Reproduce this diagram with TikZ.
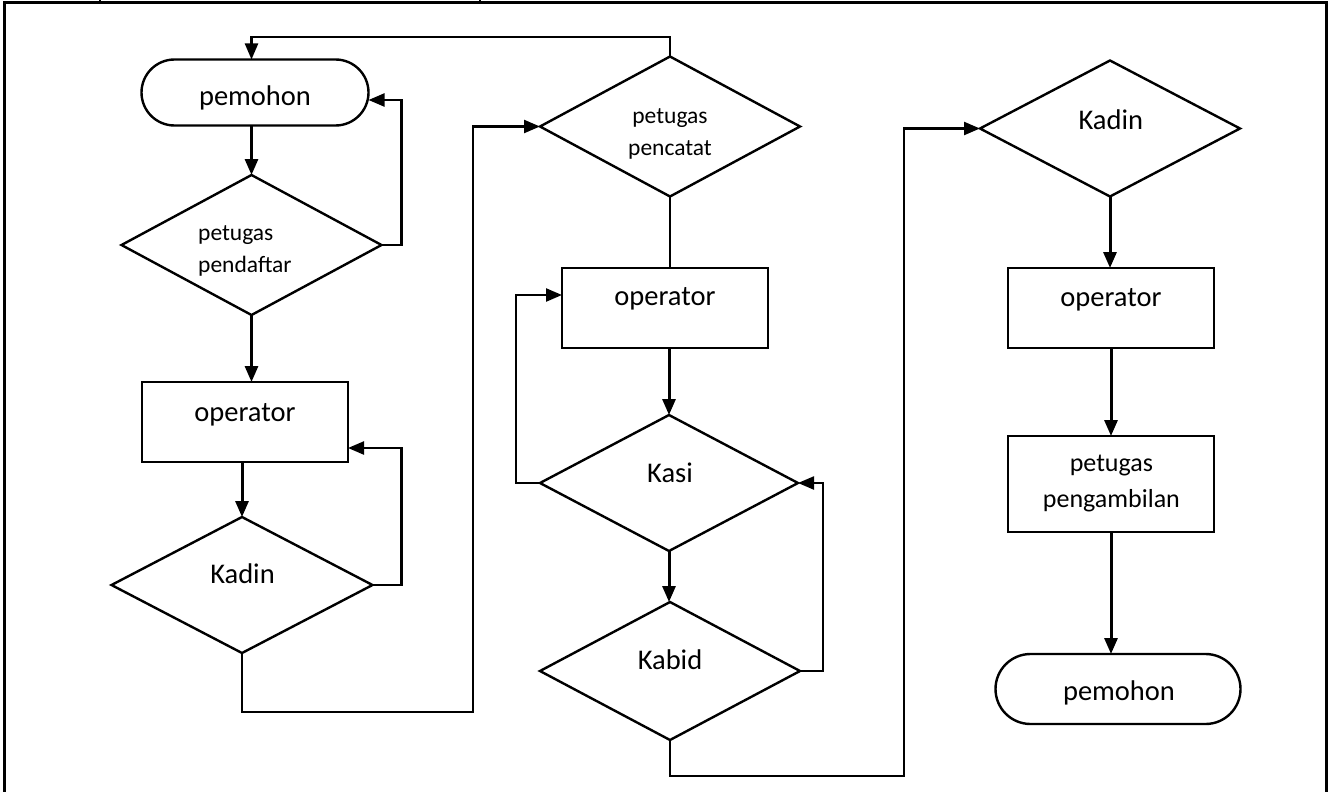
\documentclass[tikz,border=0pt]{standalone}
\usepackage{fontspec}
\setmainfont{Carlito}
\usetikzlibrary{arrows.meta,shapes.geometric,shapes.misc}
\begin{document}
\begin{tikzpicture}[x=1pt,y=-1pt,
  shapeline/.style={draw=black,line width=2.4pt,inner sep=0pt,outer sep=0pt},
  dia/.style={shapeline,diamond,minimum width=260pt,minimum height=138pt},
  box/.style={shapeline,rectangle,minimum width=206pt,minimum height=80pt},
  term/.style={shapeline,rounded rectangle,minimum height=66pt},
  conn/.style={line width=2.3pt,draw=black},
  loopconn/.style={conn,-{Triangle[length=16pt,width=13pt]}},
  arr/.style={line width=3pt,draw=black,-{Triangle[length=16pt,width=13pt]}},
  big/.style={inner sep=0pt,font=\fontsize{28.5}{34}\selectfont},
  small/.style={inner sep=0pt,font=\fontsize{23.5}{32}\selectfont},
  mid/.style={inner sep=0pt,font=\fontsize{26}{36}\selectfont},
]
\useasboundingbox (0,0) rectangle (1328,792);
% frame
\draw[line width=3pt] (4,795) -- (4,3) -- (1326,3) -- (1326,795);
\draw[line width=1.5pt] (100,0) -- (100,3);
\draw[line width=1.5pt] (480,0) -- (480,3);

% left column
\node[term,minimum width=227pt] (pem1) at (255,92.5) {};
\node[dia,minimum height=140pt] (d1) at (251.5,245) {};
\node[box] (op1) at (245,422) {};
\node[dia,minimum width=261pt,minimum height=136pt] (d2) at (242,585) {};

% middle column
\node[dia,minimum height=140pt] (d3) at (670,126.5) {};
\node[box] (op2) at (665,308) {};
\node[dia,minimum width=258pt,minimum height=136pt] (d4) at (669,483) {};
\node[dia] (d5) at (670,671) {};

% right column
\node[dia,minimum height=136pt] (d6) at (1110,128.5) {};
\node[box] (op3) at (1111,308) {};
\node[box,minimum height=96pt] (b4) at (1111,484) {};
\node[term,minimum width=245pt,minimum height=70pt] (pem2) at (1118,689) {};

% texts
\node[big,anchor=base] (t1) at (255,105) {pemohon};
\node[small,anchor=base west,align=left] (t2) at (198,272) {petugas\\pendaftar};
\node[big,anchor=base] (t3) at (245,421) {operator};
\node[big,anchor=base] (t4) at (242.5,583) {Kadin};
\node[small,anchor=base,align=center] (t5) at (670,155.7) {petugas\\pencatat};
\node[big,anchor=base] (t6) at (665,305) {operator};
\node[big,anchor=base] (t7) at (670,482) {Kasi};
\node[big,anchor=base] (t8) at (670,669) {Kabid};
\node[big,anchor=base] (t9) at (1110.8,129) {Kadin};
\node[big,anchor=base] (t10) at (1111,306.7) {operator};
\node[mid,anchor=base,align=center] (t11) at (1111.4,507.7) {petugas\\pengambilan};
\node[big,anchor=base] (t12) at (1119,700) {pemohon};

% helper coordinates
\coordinate (c1) at (473,712);
\coordinate (c2) at (251.5,37);
\coordinate (c3) at (904,776);

% connectors left
\draw[arr] (d1.north |- pem1.south) -- (d1.north);
\draw[loopconn] (d1.east) -- ++(20,0) |- ([yshift=-7.5pt]pem1.east);
\draw[arr] (d1.south) -- (d1.south |- op1.north);
\draw[arr] (d2.north |- op1.south) -- (d2.north);
\draw[loopconn] (d2.east) -- ++(29,0) |- ([yshift=-26pt]op1.east);
\draw[loopconn] (d2.south) |- (c1) |- (d3.west);

% connectors middle
\draw[loopconn] (d3.north) |- (c2) -- (c2 |- pem1.north);
\draw[conn] (d3.south) -- (d3.south |- op2.north);
\draw[arr] (d4.north |- op2.south) -- (d4.north);
\draw[loopconn] (d4.west) -- ++(-24,0) |- ([yshift=13pt]op2.west);
\draw[arr] (d4.south) -- (d4.south |- d5.north);
\draw[loopconn] (d5.east) -- ++(23,0) |- (d4.east);
\draw[loopconn] (d5.south) |- (c3) |- (d6.west);

% connectors right
\draw[arr] (d6.south) -- (d6.south |- op3.north);
\draw[arr] (op3.south) -- (op3.south |- b4.north);
\draw[arr] (b4.south) -- (b4.south |- pem2.north);
\end{tikzpicture}
\end{document}
